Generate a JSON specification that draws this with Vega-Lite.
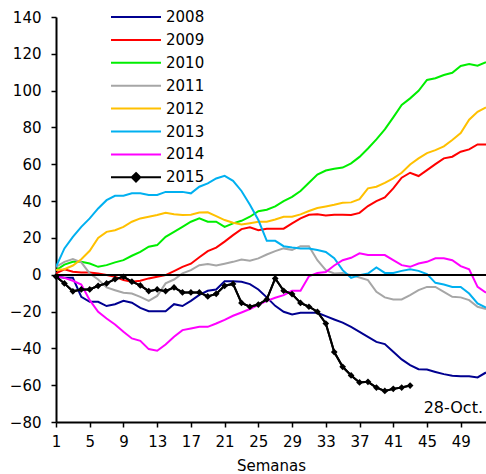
{
  "$schema": "https://vega.github.io/schema/vega-lite/v6.json",
  "width": 430,
  "height": 405,
  "autosize": "none",
  "padding": {"left": 56, "top": 17, "right": 0, "bottom": 52},
  "config": {
    "view": {"stroke": null},
    "font": "DejaVu Sans",
    "axis": {"grid": false, "domainColor": "black", "domainWidth": 2, "tickColor": "black", "tickWidth": 1.5, "tickSize": 5, "labelColor": "black", "labelFontSize": 15, "labelFont": "DejaVu Sans", "titleFont": "DejaVu Sans", "titleFontSize": 15, "titleFontWeight": "normal", "titleColor": "black", "labelOverlap": false}
  },
  "datasets": {
    "series": [
      {"year":"2008","week":1,"value":-1},{"year":"2008","week":2,"value":-1.7},{"year":"2008","week":3,"value":-1.7},{"year":"2008","week":4,"value":-12},{"year":"2008","week":5,"value":-14.7},{"year":"2008","week":6,"value":-14.7},{"year":"2008","week":7,"value":-17},{"year":"2008","week":8,"value":-16},{"year":"2008","week":9,"value":-14.2},{"year":"2008","week":10,"value":-15.2},{"year":"2008","week":11,"value":-18},{"year":"2008","week":12,"value":-19.8},{"year":"2008","week":13,"value":-19.8},{"year":"2008","week":14,"value":-19.8},{"year":"2008","week":15,"value":-16},{"year":"2008","week":16,"value":-17},{"year":"2008","week":17,"value":-14.2},{"year":"2008","week":18,"value":-11},{"year":"2008","week":19,"value":-8.7},{"year":"2008","week":20,"value":-8},{"year":"2008","week":21,"value":-3.5},{"year":"2008","week":22,"value":-3.5},{"year":"2008","week":23,"value":-3.8},{"year":"2008","week":24,"value":-5.1},{"year":"2008","week":25,"value":-8},{"year":"2008","week":26,"value":-12.3},{"year":"2008","week":27,"value":-16.9},{"year":"2008","week":28,"value":-20.1},{"year":"2008","week":29,"value":-21.6},{"year":"2008","week":30,"value":-20.7},{"year":"2008","week":31,"value":-20.7},{"year":"2008","week":32,"value":-20.7},{"year":"2008","week":33,"value":-22.5},{"year":"2008","week":34,"value":-24.3},{"year":"2008","week":35,"value":-26},{"year":"2008","week":36,"value":-28.3},{"year":"2008","week":37,"value":-31},{"year":"2008","week":38,"value":-33.7},{"year":"2008","week":39,"value":-36.5},{"year":"2008","week":40,"value":-37.7},{"year":"2008","week":41,"value":-41.9},{"year":"2008","week":42,"value":-46},{"year":"2008","week":43,"value":-49.1},{"year":"2008","week":44,"value":-51.3},{"year":"2008","week":45,"value":-51.5},{"year":"2008","week":46,"value":-52.8},{"year":"2008","week":47,"value":-54},{"year":"2008","week":48,"value":-54.9},{"year":"2008","week":49,"value":-55.1},{"year":"2008","week":50,"value":-55.1},{"year":"2008","week":51,"value":-55.8},{"year":"2008","week":52,"value":-53.1},
      {"year":"2009","week":1,"value":0.7},{"year":"2009","week":2,"value":2.9},{"year":"2009","week":3,"value":1.6},{"year":"2009","week":4,"value":1.2},{"year":"2009","week":5,"value":1.2},{"year":"2009","week":6,"value":0.7},{"year":"2009","week":7,"value":-0.2},{"year":"2009","week":8,"value":-1.1},{"year":"2009","week":9,"value":-2.9},{"year":"2009","week":10,"value":-3.8},{"year":"2009","week":11,"value":-3.3},{"year":"2009","week":12,"value":-2},{"year":"2009","week":13,"value":-1.1},{"year":"2009","week":14,"value":-0.2},{"year":"2009","week":15,"value":2},{"year":"2009","week":16,"value":4.3},{"year":"2009","week":17,"value":6},{"year":"2009","week":18,"value":9.5},{"year":"2009","week":19,"value":12.8},{"year":"2009","week":20,"value":14.7},{"year":"2009","week":21,"value":18},{"year":"2009","week":22,"value":21.5},{"year":"2009","week":23,"value":24.8},{"year":"2009","week":24,"value":25.8},{"year":"2009","week":25,"value":24.2},{"year":"2009","week":26,"value":25},{"year":"2009","week":27,"value":25},{"year":"2009","week":28,"value":25},{"year":"2009","week":29,"value":27.9},{"year":"2009","week":30,"value":30.6},{"year":"2009","week":31,"value":32.6},{"year":"2009","week":32,"value":32.8},{"year":"2009","week":33,"value":32.2},{"year":"2009","week":34,"value":32.6},{"year":"2009","week":35,"value":32.6},{"year":"2009","week":36,"value":32.4},{"year":"2009","week":37,"value":33.6},{"year":"2009","week":38,"value":37.3},{"year":"2009","week":39,"value":40},{"year":"2009","week":40,"value":42},{"year":"2009","week":41,"value":46.9},{"year":"2009","week":42,"value":52.7},{"year":"2009","week":43,"value":55.4},{"year":"2009","week":44,"value":53.6},{"year":"2009","week":45,"value":56.8},{"year":"2009","week":46,"value":60.1},{"year":"2009","week":47,"value":63.2},{"year":"2009","week":48,"value":64.1},{"year":"2009","week":49,"value":66.8},{"year":"2009","week":50,"value":68.1},{"year":"2009","week":51,"value":70.8},{"year":"2009","week":52,"value":70.8},
      {"year":"2010","week":1,"value":2.5},{"year":"2010","week":2,"value":5.5},{"year":"2010","week":3,"value":7},{"year":"2010","week":4,"value":7},{"year":"2010","week":5,"value":6.1},{"year":"2010","week":6,"value":4.3},{"year":"2010","week":7,"value":5.2},{"year":"2010","week":8,"value":6.7},{"year":"2010","week":9,"value":7.9},{"year":"2010","week":10,"value":10.3},{"year":"2010","week":11,"value":12.4},{"year":"2010","week":12,"value":15.2},{"year":"2010","week":13,"value":16.1},{"year":"2010","week":14,"value":20.6},{"year":"2010","week":15,"value":23.3},{"year":"2010","week":16,"value":26},{"year":"2010","week":17,"value":28.8},{"year":"2010","week":18,"value":30.6},{"year":"2010","week":19,"value":28.8},{"year":"2010","week":20,"value":28.8},{"year":"2010","week":21,"value":26},{"year":"2010","week":22,"value":27.9},{"year":"2010","week":23,"value":29.3},{"year":"2010","week":24,"value":31.5},{"year":"2010","week":25,"value":34.5},{"year":"2010","week":26,"value":35.3},{"year":"2010","week":27,"value":37.1},{"year":"2010","week":28,"value":40},{"year":"2010","week":29,"value":42.3},{"year":"2010","week":30,"value":45.5},{"year":"2010","week":31,"value":50},{"year":"2010","week":32,"value":54.4},{"year":"2010","week":33,"value":56.6},{"year":"2010","week":34,"value":57.6},{"year":"2010","week":35,"value":58.2},{"year":"2010","week":36,"value":60.5},{"year":"2010","week":37,"value":64},{"year":"2010","week":38,"value":68.6},{"year":"2010","week":39,"value":73.5},{"year":"2010","week":40,"value":79},{"year":"2010","week":41,"value":85.5},{"year":"2010","week":42,"value":92.2},{"year":"2010","week":43,"value":95.8},{"year":"2010","week":44,"value":99.9},{"year":"2010","week":45,"value":105.8},{"year":"2010","week":46,"value":106.7},{"year":"2010","week":47,"value":108.5},{"year":"2010","week":48,"value":109.7},{"year":"2010","week":49,"value":113.4},{"year":"2010","week":50,"value":114.5},{"year":"2010","week":51,"value":113.5},{"year":"2010","week":52,"value":115.4},
      {"year":"2011","week":1,"value":4.3},{"year":"2011","week":2,"value":7},{"year":"2011","week":3,"value":8.5},{"year":"2011","week":4,"value":6.7},{"year":"2011","week":5,"value":0.7},{"year":"2011","week":6,"value":-2.6},{"year":"2011","week":7,"value":-6.9},{"year":"2011","week":8,"value":-8.4},{"year":"2011","week":9,"value":-9.8},{"year":"2011","week":10,"value":-10.2},{"year":"2011","week":11,"value":-12},{"year":"2011","week":12,"value":-14.2},{"year":"2011","week":13,"value":-11.5},{"year":"2011","week":14,"value":-4.7},{"year":"2011","week":15,"value":-2.6},{"year":"2011","week":16,"value":0.7},{"year":"2011","week":17,"value":2.5},{"year":"2011","week":18,"value":5.2},{"year":"2011","week":19,"value":5.8},{"year":"2011","week":20,"value":5},{"year":"2011","week":21,"value":6},{"year":"2011","week":22,"value":7},{"year":"2011","week":23,"value":8.3},{"year":"2011","week":24,"value":7.6},{"year":"2011","week":25,"value":8.9},{"year":"2011","week":26,"value":11},{"year":"2011","week":27,"value":12.8},{"year":"2011","week":28,"value":14.3},{"year":"2011","week":29,"value":13.4},{"year":"2011","week":30,"value":15.5},{"year":"2011","week":31,"value":15.5},{"year":"2011","week":32,"value":7.9},{"year":"2011","week":33,"value":2.5},{"year":"2011","week":34,"value":0.7},{"year":"2011","week":35,"value":1},{"year":"2011","week":36,"value":-0.2},{"year":"2011","week":37,"value":-1.5},{"year":"2011","week":38,"value":-2.9},{"year":"2011","week":39,"value":-9.3},{"year":"2011","week":40,"value":-12.3},{"year":"2011","week":41,"value":-13.4},{"year":"2011","week":42,"value":-13.4},{"year":"2011","week":43,"value":-11.1},{"year":"2011","week":44,"value":-8.4},{"year":"2011","week":45,"value":-6.6},{"year":"2011","week":46,"value":-6.6},{"year":"2011","week":47,"value":-9.3},{"year":"2011","week":48,"value":-12},{"year":"2011","week":49,"value":-12.3},{"year":"2011","week":50,"value":-13.8},{"year":"2011","week":51,"value":-17.4},{"year":"2011","week":52,"value":-18.7},
      {"year":"2012","week":1,"value":2.5},{"year":"2012","week":2,"value":3},{"year":"2012","week":3,"value":5},{"year":"2012","week":4,"value":8.4},{"year":"2012","week":5,"value":13},{"year":"2012","week":6,"value":20},{"year":"2012","week":7,"value":23.3},{"year":"2012","week":8,"value":24.2},{"year":"2012","week":9,"value":26},{"year":"2012","week":10,"value":28.8},{"year":"2012","week":11,"value":30.6},{"year":"2012","week":12,"value":31.5},{"year":"2012","week":13,"value":32.4},{"year":"2012","week":14,"value":33.6},{"year":"2012","week":15,"value":32.8},{"year":"2012","week":16,"value":32.4},{"year":"2012","week":17,"value":32.6},{"year":"2012","week":18,"value":33.8},{"year":"2012","week":19,"value":33.9},{"year":"2012","week":20,"value":31.8},{"year":"2012","week":21,"value":29.7},{"year":"2012","week":22,"value":28.2},{"year":"2012","week":23,"value":27.3},{"year":"2012","week":24,"value":28},{"year":"2012","week":25,"value":28.8},{"year":"2012","week":26,"value":28.8},{"year":"2012","week":27,"value":30},{"year":"2012","week":28,"value":31.5},{"year":"2012","week":29,"value":31.5},{"year":"2012","week":30,"value":32.8},{"year":"2012","week":31,"value":34.6},{"year":"2012","week":32,"value":36.2},{"year":"2012","week":33,"value":37.1},{"year":"2012","week":34,"value":38},{"year":"2012","week":35,"value":39.1},{"year":"2012","week":36,"value":39.3},{"year":"2012","week":37,"value":41.1},{"year":"2012","week":38,"value":46.9},{"year":"2012","week":39,"value":47.8},{"year":"2012","week":40,"value":49.9},{"year":"2012","week":41,"value":52.3},{"year":"2012","week":42,"value":55.4},{"year":"2012","week":43,"value":59.9},{"year":"2012","week":44,"value":63.2},{"year":"2012","week":45,"value":66.1},{"year":"2012","week":46,"value":67.7},{"year":"2012","week":47,"value":69.7},{"year":"2012","week":48,"value":73.2},{"year":"2012","week":49,"value":77},{"year":"2012","week":50,"value":84.2},{"year":"2012","week":51,"value":88.5},{"year":"2012","week":52,"value":90.9},
      {"year":"2013","week":1,"value":4.3},{"year":"2013","week":2,"value":14.3},{"year":"2013","week":3,"value":20.6},{"year":"2013","week":4,"value":26},{"year":"2013","week":5,"value":30.6},{"year":"2013","week":6,"value":36},{"year":"2013","week":7,"value":40.5},{"year":"2013","week":8,"value":42.9},{"year":"2013","week":9,"value":42.9},{"year":"2013","week":10,"value":44.2},{"year":"2013","week":11,"value":44.2},{"year":"2013","week":12,"value":43.3},{"year":"2013","week":13,"value":43.3},{"year":"2013","week":14,"value":45},{"year":"2013","week":15,"value":45},{"year":"2013","week":16,"value":45},{"year":"2013","week":17,"value":44.2},{"year":"2013","week":18,"value":47.8},{"year":"2013","week":19,"value":49.6},{"year":"2013","week":20,"value":52.3},{"year":"2013","week":21,"value":53.7},{"year":"2013","week":22,"value":51},{"year":"2013","week":23,"value":45.5},{"year":"2013","week":24,"value":38},{"year":"2013","week":25,"value":29.7},{"year":"2013","week":26,"value":18.4},{"year":"2013","week":27,"value":18.4},{"year":"2013","week":28,"value":15.5},{"year":"2013","week":29,"value":14.8},{"year":"2013","week":30,"value":14.3},{"year":"2013","week":31,"value":14.3},{"year":"2013","week":32,"value":13.4},{"year":"2013","week":33,"value":12.4},{"year":"2013","week":34,"value":9},{"year":"2013","week":35,"value":2.5},{"year":"2013","week":36,"value":-1.7},{"year":"2013","week":37,"value":-0.2},{"year":"2013","week":38,"value":0.7},{"year":"2013","week":39,"value":4},{"year":"2013","week":40,"value":1},{"year":"2013","week":41,"value":1},{"year":"2013","week":42,"value":2.1},{"year":"2013","week":43,"value":3},{"year":"2013","week":44,"value":2.1},{"year":"2013","week":45,"value":0.3},{"year":"2013","week":46,"value":-4.4},{"year":"2013","week":47,"value":-5.3},{"year":"2013","week":48,"value":-6.6},{"year":"2013","week":49,"value":-6.6},{"year":"2013","week":50,"value":-10.2},{"year":"2013","week":51,"value":-15.6},{"year":"2013","week":52,"value":-17.8},
      {"year":"2014","week":1,"value":-1},{"year":"2014","week":2,"value":-1.7},{"year":"2014","week":3,"value":-3.3},{"year":"2014","week":4,"value":-5.3},{"year":"2014","week":5,"value":-13.8},{"year":"2014","week":6,"value":-20.1},{"year":"2014","week":7,"value":-23.8},{"year":"2014","week":8,"value":-27},{"year":"2014","week":9,"value":-31},{"year":"2014","week":10,"value":-34.6},{"year":"2014","week":11,"value":-35.9},{"year":"2014","week":12,"value":-40.4},{"year":"2014","week":13,"value":-41.3},{"year":"2014","week":14,"value":-37.9},{"year":"2014","week":15,"value":-33.7},{"year":"2014","week":16,"value":-30.1},{"year":"2014","week":17,"value":-29.2},{"year":"2014","week":18,"value":-28.3},{"year":"2014","week":19,"value":-28.3},{"year":"2014","week":20,"value":-26.5},{"year":"2014","week":21,"value":-24.5},{"year":"2014","week":22,"value":-22.3},{"year":"2014","week":23,"value":-20.5},{"year":"2014","week":24,"value":-18.6},{"year":"2014","week":25,"value":-16.4},{"year":"2014","week":26,"value":-14.2},{"year":"2014","week":27,"value":-12.5},{"year":"2014","week":28,"value":-11.1},{"year":"2014","week":29,"value":-8.7},{"year":"2014","week":30,"value":-8.7},{"year":"2014","week":31,"value":-0.8},{"year":"2014","week":32,"value":1},{"year":"2014","week":33,"value":1.5},{"year":"2014","week":34,"value":5},{"year":"2014","week":35,"value":7.9},{"year":"2014","week":36,"value":9.2},{"year":"2014","week":37,"value":11.6},{"year":"2014","week":38,"value":10.7},{"year":"2014","week":39,"value":10.7},{"year":"2014","week":40,"value":10.7},{"year":"2014","week":41,"value":7.9},{"year":"2014","week":42,"value":5.2},{"year":"2014","week":43,"value":4.3},{"year":"2014","week":44,"value":6.1},{"year":"2014","week":45,"value":7},{"year":"2014","week":46,"value":8.9},{"year":"2014","week":47,"value":8.9},{"year":"2014","week":48,"value":7.9},{"year":"2014","week":49,"value":4.7},{"year":"2014","week":50,"value":2.9},{"year":"2014","week":51,"value":-6.6},{"year":"2014","week":52,"value":-9.8},
      {"year":"2015","week":1,"value":-1},{"year":"2015","week":2,"value":-4.7},{"year":"2015","week":3,"value":-9},{"year":"2015","week":4,"value":-8},{"year":"2015","week":5,"value":-8},{"year":"2015","week":6,"value":-6},{"year":"2015","week":7,"value":-4.7},{"year":"2015","week":8,"value":-2.4},{"year":"2015","week":9,"value":-1.1},{"year":"2015","week":10,"value":-3.8},{"year":"2015","week":11,"value":-5.8},{"year":"2015","week":12,"value":-8.9},{"year":"2015","week":13,"value":-8},{"year":"2015","week":14,"value":-8.9},{"year":"2015","week":15,"value":-6.9},{"year":"2015","week":16,"value":-9.6},{"year":"2015","week":17,"value":-9.6},{"year":"2015","week":18,"value":-9.6},{"year":"2015","week":19,"value":-11.8},{"year":"2015","week":20,"value":-10.4},{"year":"2015","week":21,"value":-6},{"year":"2015","week":22,"value":-5},{"year":"2015","week":23,"value":-15.3},{"year":"2015","week":24,"value":-17.4},{"year":"2015","week":25,"value":-16.2},{"year":"2015","week":26,"value":-13.4},{"year":"2015","week":27,"value":-2},{"year":"2015","week":28,"value":-8.7},{"year":"2015","week":29,"value":-10.5},{"year":"2015","week":30,"value":-15.3},{"year":"2015","week":31,"value":-17.4},{"year":"2015","week":32,"value":-20.1},{"year":"2015","week":33,"value":-26.5},{"year":"2015","week":34,"value":-42},{"year":"2015","week":35,"value":-50},{"year":"2015","week":36,"value":-54.7},{"year":"2015","week":37,"value":-58.5},{"year":"2015","week":38,"value":-58.2},{"year":"2015","week":39,"value":-61.3},{"year":"2015","week":40,"value":-63.1},{"year":"2015","week":41,"value":-62},{"year":"2015","week":42,"value":-61.3},{"year":"2015","week":43,"value":-60.2}
    ],
    "note": [{"label": "28-Oct.", "week": 52, "value": -72.5}]
  },
  "data": {"name": "series"},
  "layer": [
    {
      "mark": {"type": "line", "strokeWidth": 2, "clip": true},
      "encoding": {
        "x": {"field": "week", "type": "quantitative", "scale": {"domain": [1, 52], "nice": false, "zero": false},
              "axis": {"values": [1,5,9,13,17,21,25,29,33,37,41,45,49], "tickCount": 30, "title": "Semanas", "labelPadding": 7, "titlePadding": 9, "labelFlush": false, "labelOverlap": false}},
        "y": {"field": "value", "type": "quantitative", "scale": {"domain": [-80, 140], "nice": false},
              "axis": {"values": [-80,-60,-40,-20,0,20,40,60,80,100,120,140], "tickCount": 30, "title": null, "labelPadding": 10, "labelOverlap": false}},
        "color": {"field": "year", "type": "nominal",
          "scale": {"domain": ["2008","2009","2010","2011","2012","2013","2014","2015"], "range": ["#000090","#FF0000","#00EE00","#A6A6A6","#FFC000","#00B0F0","#FF00FF","#000000"]},
          "legend": {"orient": "none", "legendX": 54, "legendY": -8, "title": null, "symbolType": "stroke", "symbolSize": 2500, "symbolStrokeWidth": 2, "clipHeight": 16, "rowPadding": 6.9, "labelFontSize": 15, "labelFont": "DejaVu Sans", "labelColor": "black", "labelOffset": 4, "padding": 0, "symbolOffset": 0,
            "encode": {"symbols": {"update": {
              "shape": {"signal": "datum.value === '2015' ? 'M-1,0H1M0,-0.17L0.17,0L0,0.17L-0.17,0Z' : 'stroke'"},
              "fill": {"signal": "datum.value === '2015' ? 'black' : 'transparent'"}}}}}}
      }
    },
    {
      "mark": {"type": "rule", "color": "black", "strokeWidth": 1.5},
      "encoding": {"y": {"datum": 0}}
    },
    {
      "transform": [{"filter": "datum.year === '2015'"}],
      "mark": {"type": "line", "strokeWidth": 2, "color": "black"},
      "encoding": {"x": {"field": "week", "type": "quantitative"}, "y": {"field": "value", "type": "quantitative"}}
    },
    {
      "transform": [{"filter": "datum.year === '2015'"}],
      "mark": {"type": "point", "shape": "diamond", "filled": true, "color": "black", "size": 45, "opacity": 1},
      "encoding": {"x": {"field": "week", "type": "quantitative"}, "y": {"field": "value", "type": "quantitative"}}
    },
    {
      "data": {"name": "note"},
      "mark": {"type": "text", "align": "right", "baseline": "middle", "dx": -3, "fontSize": 16, "font": "DejaVu Sans", "color": "black"},
      "encoding": {"x": {"field": "week", "type": "quantitative"}, "y": {"field": "value", "type": "quantitative"}, "text": {"field": "label"}}
    }
  ]
}
